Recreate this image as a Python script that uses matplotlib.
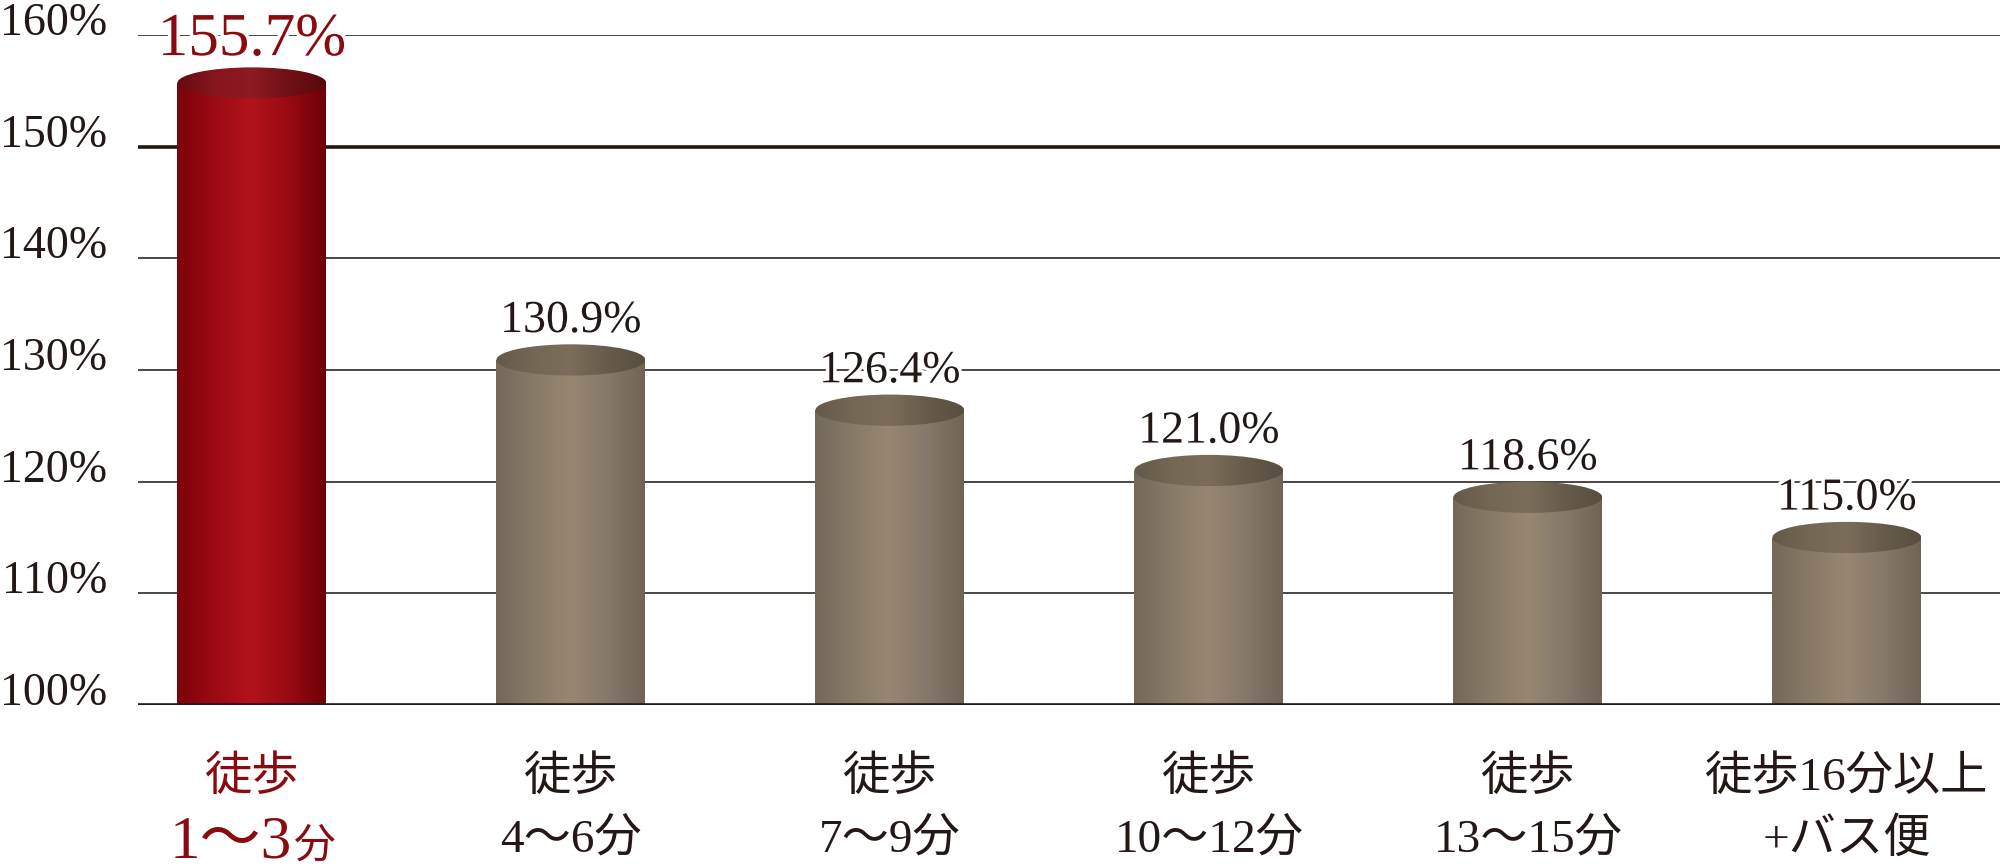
import numpy as np
import matplotlib
matplotlib.use('Agg')
import matplotlib.pyplot as plt
import matplotlib.transforms as mtransforms
import matplotlib.patheffects as pe
from matplotlib.colors import LinearSegmentedColormap
from matplotlib.patches import Ellipse

plt.rcParams['font.family'] = ['Liberation Serif', 'Noto Sans CJK JP', 'DejaVu Sans']

# data
cat_top = ['徒歩', '徒歩', '徒歩', '徒歩', '徒歩', '徒歩16分以上']
cat_bottom = ['1〜3分', '4〜6分', '7〜9分', '10〜12分', '13〜15分', '+バス便']
values = [155.7, 130.9, 126.4, 121.0, 118.6, 115.0]
y_ticks = [100, 110, 120, 130, 140, 150, 160]

dark = '#231815'
red_text = '#8a0a10'

red_body = LinearSegmentedColormap.from_list('rb', ['#7c0209', '#9c0a14', '#b3121c', '#9a0a13', '#6e0007'])
red_top = LinearSegmentedColormap.from_list('rt', ['#650a10', '#86161e', '#8e1a22', '#701016', '#58080c'])
gray_body = LinearSegmentedColormap.from_list('gb', ['#74685a', '#887a65', '#978771', '#86786a', '#6f6456'])
gray_top = LinearSegmentedColormap.from_list('gt', ['#645949', '#746753', '#7b6d59', '#665b4a', '#584f41'])

fig = plt.figure(figsize=(20, 8.68), dpi=100)
ax = fig.add_axes([138 / 2000, (868 - 705) / 868, 1 - 138 / 2000, (705 - 35) / 868])

x = np.arange(len(values))
bw = 0.467
ell_h = 2.8
grad = np.linspace(0, 1, 256).reshape(1, -1)

# grid lines, the 150% and 100% ones are heavier
for t in y_ticks:
    if t in (100, 150):
        ax.axhline(t, color=dark, lw=2.6, zorder=5 if t == 100 else 1)
    else:
        ax.axhline(t, color='#2e2521', lw=1.2, zorder=1)

bars = ax.bar(x, np.array(values) - 100, bottom=100, width=bw, color='none', edgecolor='none', zorder=2)

for i, (b, v) in enumerate(zip(bars, values)):
    body = red_body if i == 0 else gray_body
    top = red_top if i == 0 else gray_top
    im = ax.imshow(grad, cmap=body, aspect='auto', extent=(x[i] - bw / 2, x[i] + bw / 2, 100, v), zorder=2)
    im.set_clip_path(b)
    e = Ellipse((x[i], v), bw, ell_h, facecolor='none', edgecolor='none', zorder=3)
    ax.add_patch(e)
    im2 = ax.imshow(grad, cmap=top, aspect='auto',
                    extent=(x[i] - bw / 2, x[i] + bw / 2, v - ell_h / 2, v + ell_h / 2), zorder=3)
    im2.set_clip_path(e)

    # value label with a white halo over the grid lines
    halo = [pe.withStroke(linewidth=5, foreground='white')]
    if i == 0:
        ax.text(x[i], v + 2.5, f'{v:.1f}%', ha='center', va='baseline', fontsize=44,
                color=red_text, zorder=6, path_effects=halo)
    else:
        ax.text(x[i], v + 2.5, f'{v:.1f}%', ha='center', va='baseline', fontsize=33,
                color=dark, zorder=6, path_effects=halo)

# y tick labels sit on their lines
ytrans = mtransforms.blended_transform_factory(ax.transAxes, ax.transData)
for t in y_ticks:
    ax.text(-31 / 1862, t, f'{t}%', ha='right', va='baseline', fontsize=33, color=dark, transform=ytrans)

# category labels under the axis
ctrans = mtransforms.blended_transform_factory(ax.transData, fig.transFigure)
for i in range(len(values)):
    col = red_text if i == 0 else dark
    ax.text(x[i], 1 - 778 / 868, cat_top[i], ha='center', va='center', fontsize=34,
            color=col, transform=ctrans)
    if i == 0:
        off_r = ctrans + mtransforms.ScaledTranslation(0.40, 0, fig.dpi_scale_trans)
        off_l = ctrans + mtransforms.ScaledTranslation(0.41, 0, fig.dpi_scale_trans)
        ax.text(x[i], 1 - 858 / 868, cat_bottom[i][:-1], ha='right', va='baseline', fontsize=44,
                color=col, transform=off_r)
        ax.text(x[i], 1 - 858 / 868, cat_bottom[i][-1], ha='left', va='baseline', fontsize=30,
                color=col, transform=off_l)
    else:
        ax.text(x[i], 1 - 852 / 868, cat_bottom[i], ha='center', va='baseline', fontsize=34,
                color=col, transform=ctrans)

ax.set_xlim(-0.357, 5.48)
ax.set_ylim(100, 160)
ax.set_xticks([])
ax.set_yticks([])
for s in ax.spines.values():
    s.set_visible(False)
ax.patch.set_alpha(0)

fig.savefig('out.png', dpi=100, facecolor='white')
